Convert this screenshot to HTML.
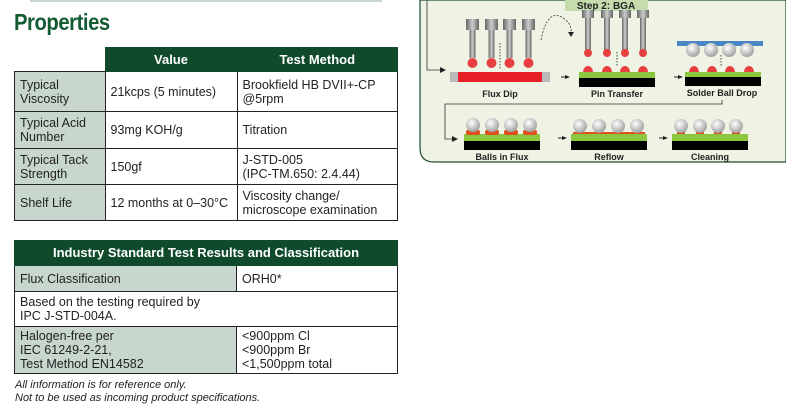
<!DOCTYPE html>
<html><head><meta charset="utf-8"><style>
body{margin:0;width:786px;height:420px;background:#fff;position:relative;overflow:hidden;font-family:"Liberation Sans",sans-serif;}
.ab{position:absolute;}
table{border-collapse:collapse;position:absolute;font-family:"Liberation Sans",sans-serif;font-size:12.5px;color:#222;}
td{border:1px solid #222;padding:0 5px;line-height:14px;vertical-align:middle;}
.h{background:#0f4b2b;color:#fff;font-weight:bold;text-align:center;font-size:13px;border-color:#0f4b2b;}
.g{background:#c8d7cd;}
</style></head><body>
<div class="ab" style="left:30px;top:0;width:352px;height:2px;background:#c9d6cd"></div>
<div class="ab" style="left:14px;top:9px;font-size:23px;font-weight:bold;color:#135b33;letter-spacing:-0.5px;transform:scaleX(0.88);transform-origin:left">Properties</div>

<table style="left:14px;top:47px;width:384px">
<tr style="height:24px"><td style="border:none;border-bottom:1px solid #222;width:80px"></td><td class="h" style="width:121px">Value</td><td class="h">Test Method</td></tr>
<tr style="height:40px"><td class="g">Typical<br>Viscosity</td><td>21kcps (5 minutes)</td><td>Brookfield HB DVII+-CP<br>@5rpm</td></tr>
<tr style="height:37px"><td class="g">Typical Acid<br>Number</td><td>93mg KOH/g</td><td>Titration</td></tr>
<tr style="height:36px"><td class="g">Typical Tack<br>Strength</td><td>150gf</td><td>J-STD-005<br>(IPC-TM.650: 2.4.44)</td></tr>
<tr style="height:36px"><td class="g">Shelf Life</td><td>12 months at 0–30°C</td><td>Viscosity change/<br>microscope examination</td></tr>
</table>

<table style="left:14px;top:240px;width:384px">
<tr style="height:25px"><td class="h" colspan="2">Industry Standard Test Results and Classification</td></tr>
<tr style="height:26px"><td class="g" style="width:211px">Flux Classification</td><td>ORH0*</td></tr>
<tr style="height:35px"><td colspan="2">Based on the testing required by<br>IPC J-STD-004A.</td></tr>
<tr style="height:47px"><td class="g">Halogen-free per<br>IEC 61249-2-21,<br>Test Method EN14582</td><td>&lt;900ppm Cl<br>&lt;900ppm Br<br>&lt;1,500ppm total</td></tr>
</table>
<div class="ab" style="left:15px;top:379px;font-size:11px;font-style:italic;color:#222;line-height:13px">All information is for reference only.<br>Not to be used as incoming product specifications.</div>

<svg class="ab" style="left:0;top:0" width="786" height="420" font-family="Liberation Sans" font-weight="bold" font-size="9">
<defs><radialGradient id="b" cx="0.4" cy="0.35" r="0.7"><stop offset="0" stop-color="#fff"/><stop offset="1" stop-color="#9a9a9a"/></radialGradient>
<linearGradient id="p" x1="0" x2="1"><stop offset="0" stop-color="#666"/><stop offset="0.5" stop-color="#ccc"/><stop offset="1" stop-color="#666"/></linearGradient></defs>
<path d="M420,0 V148 Q420,162 434,162 H786 V0 Z" fill="#eef3e4" stroke="#1d4d33" stroke-width="1.2"/>
<rect x="565" y="0" width="83" height="11" fill="#c6dcae"/>
<text x="606" y="9" text-anchor="middle" font-size="10" fill="#222">Step 2: BGA</text>
<g stroke="#333" stroke-width="0.8" fill="none">
<path d="M427,0 V70 H440"/><path d="M722,100 V104 H445 V139 H452"/>
<path d="M541,40 Q548,5 566,20 Q572,26 571,32" stroke-dasharray="2,1.5"/>
</g>
<g fill="#222">
<path d="M440,67 L446,70 L440,73Z"/><path d="M452,136 L458,139 L452,142Z"/>
<path d="M568,32 L571,37 L574,32Z"/>
<path d="M563,77 l-5,-2 v4z" transform="translate(7,0)"/><rect x="561" y="76.5" width="5" height="1"/>
<path d="M676,77 l-5,-2 v4z" transform="translate(7,0)"/><rect x="674" y="76.5" width="5" height="1"/>
<path d="M560,138 l-5,-2 v4z" transform="translate(7,0)"/><rect x="558" y="137.5" width="5" height="1"/>
<path d="M661,138 l-5,-2 v4z" transform="translate(7,0)"/><rect x="659" y="137.5" width="5" height="1"/>
</g>
<!-- flux dip -->
<rect x="450" y="72" width="100" height="10" fill="#bbb"/><rect x="458" y="72" width="84" height="10" fill="#e8202a"/>
<g id="pins">
<rect x="466" y="19" width="13" height="11" fill="url(#p)"/><rect x="469.5" y="30" width="6" height="28" fill="url(#p)"/><circle cx="472.5" cy="63" r="5" fill="#e84040"/>
<rect x="485" y="19" width="13" height="11" fill="url(#p)"/><rect x="488.5" y="30" width="6" height="28" fill="url(#p)"/><circle cx="491.5" cy="63" r="5" fill="#e84040"/>
<rect x="503" y="19" width="13" height="11" fill="url(#p)"/><rect x="506.5" y="30" width="6" height="28" fill="url(#p)"/><circle cx="509.5" cy="63" r="5" fill="#e84040"/>
<rect x="522" y="19" width="13" height="11" fill="url(#p)"/><rect x="525.5" y="30" width="6" height="28" fill="url(#p)"/><circle cx="528.5" cy="63" r="5" fill="#e84040"/>
</g>
<path d="M500,43 V70" stroke="#222" stroke-width="0.8" stroke-dasharray="1.5,1.5"/>
<!-- pin transfer -->
<rect x="579" y="72" width="76" height="6" fill="#8cc63f"/><rect x="579" y="78" width="76" height="9" fill="#000"/>
<g fill="url(#p)">
<rect x="582" y="10" width="12" height="8"/><rect x="585" y="18" width="6" height="32"/>
<rect x="601" y="10" width="12" height="8"/><rect x="604" y="18" width="6" height="32"/>
<rect x="619" y="10" width="12" height="8"/><rect x="622" y="18" width="6" height="32"/>
<rect x="637" y="10" width="12" height="8"/><rect x="640" y="18" width="6" height="32"/>
</g>
<g fill="#e84040"><circle cx="588" cy="53" r="4"/><circle cx="607" cy="53" r="4"/><circle cx="625" cy="53" r="4"/><circle cx="643" cy="53" r="4"/>
<path d="M583,72 a5,6 0 0 1 10,0z"/><path d="M602,72 a5,6 0 0 1 10,0z"/><path d="M620,72 a5,6 0 0 1 10,0z"/><path d="M638,72 a5,6 0 0 1 10,0z"/>
<path d="M689,72 a5,6 0 0 1 10,0z"/><path d="M707,72 a5,6 0 0 1 10,0z"/><path d="M725,72 a5,6 0 0 1 10,0z"/><path d="M744,72 a5,6 0 0 1 10,0z"/></g>
<path d="M617,52 V67 M721,55 V66" stroke="#222" stroke-width="0.8" stroke-dasharray="1.5,1.5"/>
<!-- solder ball drop -->
<rect x="685" y="72" width="76" height="5" fill="#8cc63f"/><rect x="685" y="77" width="76" height="9" fill="#000"/>
<rect x="677" y="41" width="86" height="5" fill="#4a86c5"/>
<g fill="url(#b)"><circle cx="693" cy="50" r="7"/><circle cx="711" cy="50" r="7"/><circle cx="729" cy="50" r="7"/><circle cx="747" cy="50" r="7"/></g>
<!-- row 2 -->
<rect x="464" y="134" width="76" height="7" fill="#8cc63f"/><rect x="464" y="141" width="76" height="9" fill="#000"/>
<rect x="571" y="134" width="76" height="7" fill="#8cc63f"/><rect x="571" y="141" width="76" height="9" fill="#000"/>
<rect x="672" y="134" width="76" height="7" fill="#8cc63f"/><rect x="672" y="141" width="76" height="9" fill="#000"/>
<g fill="#e0501e"><rect x="466" y="130" width="14" height="5" rx="2"/><rect x="485" y="130" width="14" height="5" rx="2"/><rect x="504" y="130" width="14" height="5" rx="2"/><rect x="523" y="130" width="14" height="5" rx="2"/>
<rect x="573" y="132" width="72" height="2"/><rect x="677" y="132" width="8" height="2"/><rect x="696" y="132" width="8" height="2"/><rect x="714" y="132" width="8" height="2"/><rect x="732" y="132" width="8" height="2"/></g>
<g fill="url(#b)">
<circle cx="473" cy="125" r="7"/><circle cx="492" cy="125" r="7"/><circle cx="511" cy="125" r="7"/><circle cx="530" cy="125" r="7"/>
<circle cx="580" cy="126" r="7"/><circle cx="599" cy="126" r="7"/><circle cx="618" cy="126" r="7"/><circle cx="637" cy="126" r="7"/>
<circle cx="681" cy="126" r="7"/><circle cx="700" cy="126" r="7"/><circle cx="718" cy="126" r="7"/><circle cx="736" cy="126" r="7"/>
</g>
<g fill="#222" text-anchor="middle">
<text x="500" y="97">Flux Dip</text><text x="617" y="97">Pin Transfer</text><text x="722" y="96">Solder Ball Drop</text>
<text x="502" y="160">Balls in Flux</text><text x="609" y="160">Reflow</text><text x="710" y="160">Cleaning</text>
</g>
</svg>
</body></html>
